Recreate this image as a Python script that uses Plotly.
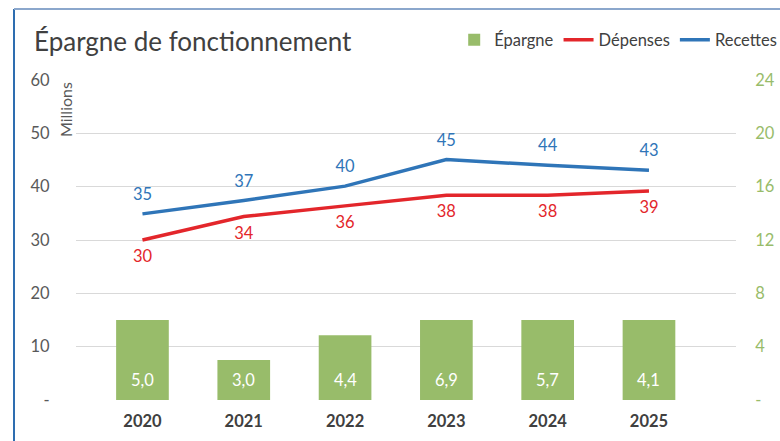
import plotly.graph_objects as go

years = [2020, 2021, 2022, 2023, 2024, 2025]
year_labels = ["2020", "2021", "2022", "2023", "2024", "2025"]
epargne_heights = [6.0, 3.0, 4.85, 6.0, 6.0, 6.0]
epargne_labels = ["5,0", "3,0", "4,4", "6,9", "5,7", "4,1"]
depenses = [30.0, 34.4, 36.4, 38.4, 38.4, 39.2]
depenses_labels = ["30", "34", "36", "38", "38", "39"]
recettes = [34.9, 37.4, 40.1, 45.1, 44.0, 43.1]
recettes_labels = ["35", "37", "40", "45", "44", "43"]

FONT = "Lato"
GREEN = "#98BC6A"
RED = "#E3262B"
BLUE = "#2F75B8"
GREY_TXT = "#595959"
DARK_TXT = "#404040"

fig = go.Figure()

fig.add_trace(go.Bar(
    x=years, y=epargne_heights, name="Épargne", yaxis="y2",
    marker=dict(color=GREEN, line=dict(width=0)), width=0.52,
    textposition="none", hoverinfo="skip",
))
fig.add_trace(go.Scatter(
    x=years, y=depenses, name="Dépenses", mode="lines+markers+text",
    line=dict(color=RED, width=3.5), marker=dict(size=14, color="rgba(0,0,0,0)"),
    text=depenses_labels, textposition="bottom center",
    textfont=dict(color=RED, size=16.5, family=FONT),
))
fig.add_trace(go.Scatter(
    x=years, y=recettes, name="Recettes", mode="lines+markers+text",
    line=dict(color=BLUE, width=3.5), marker=dict(size=14, color="rgba(0,0,0,0)"),
    text=recettes_labels, textposition="top center",
    textfont=dict(color=BLUE, size=16.5, family=FONT),
))

for x, lab in zip(years, epargne_labels):
    fig.add_annotation(x=x, y=0, xref="x", yref="y2", text=lab, showarrow=False,
                       yshift=20, font=dict(color="white", size=16.5, family=FONT))

fig.update_layout(
    width=780, height=441,
    margin=dict(l=76, r=44, t=80, b=41, autoexpand=False),
    paper_bgcolor="white", plot_bgcolor="white",
    font=dict(family=FONT, size=16, color=GREY_TXT),
    showlegend=True,
    title=dict(text="Épargne de fonctionnement", x=34/780, xanchor="left",
               y=1-42/441, yanchor="middle",
               font=dict(family=FONT, size=26, color=DARK_TXT)),
    legend=dict(orientation="h", x=1.07, xanchor="right", y=1.125, yanchor="middle",
                font=dict(family=FONT, size=16.5, color=DARK_TXT),
                itemwidth=30, tracegroupgap=0, bgcolor="rgba(0,0,0,0)"),
    xaxis=dict(range=[2019.344, 2025.859], tickvals=years, ticktext=[f"<b>{t}</b>" for t in year_labels],
               showgrid=False, zeroline=False, showline=False, automargin=False,
               tickfont=dict(family=FONT, size=16.5, color=DARK_TXT), ticks="outside",
               ticklen=6, tickcolor="rgba(0,0,0,0)"),
    yaxis=dict(range=[0, 60], tickvals=[0, 10, 20, 30, 40, 50, 60],
               ticktext=["-", "10", "20", "30", "40", "50", "60"],
               showgrid=True, gridcolor="#D9D9D9", gridwidth=1.3, zeroline=False,
               automargin=False,
               ticks="outside", ticklen=22, tickcolor="rgba(0,0,0,0)",
               tickfont=dict(family=FONT, size=16.5, color=GREY_TXT)),
    yaxis2=dict(range=[0, 24], tickvals=[0, 4, 8, 12, 16, 20, 24],
                ticktext=["-", "4", "8", "12", "16", "20", "24"],
                overlaying="y", side="right", showgrid=False, zeroline=False,
                automargin=False,
                ticks="outside", ticklen=15, tickcolor="rgba(0,0,0,0)",
                tickfont=dict(family=FONT, size=16.5, color=GREEN)),
)

fig.add_annotation(text="Millions", textangle=-90, xref="paper", yref="paper",
                   x=(65-76)/660, y=(400-110)/320, xanchor="center", yanchor="middle",
                   showarrow=False, font=dict(family=FONT, size=16, color=GREY_TXT))

# frame lines
fig.add_shape(type="line", xref="paper", yref="paper",
              x0=(14-76)/660, x1=(14-76)/660, y0=(400-9)/320, y1=(400-445)/320,
              line=dict(color="#2E6DB0", width=2))
fig.add_shape(type="line", xref="paper", yref="paper",
              x0=(14-76)/660, x1=(784-76)/660, y0=(400-9)/320, y1=(400-9)/320,
              line=dict(color="#8BA7CC", width=2))

fig.write_html("out.html", config={"displayModeBar": False},
               post_script="document.body.style.margin='0';document.body.style.overflow='hidden';")
